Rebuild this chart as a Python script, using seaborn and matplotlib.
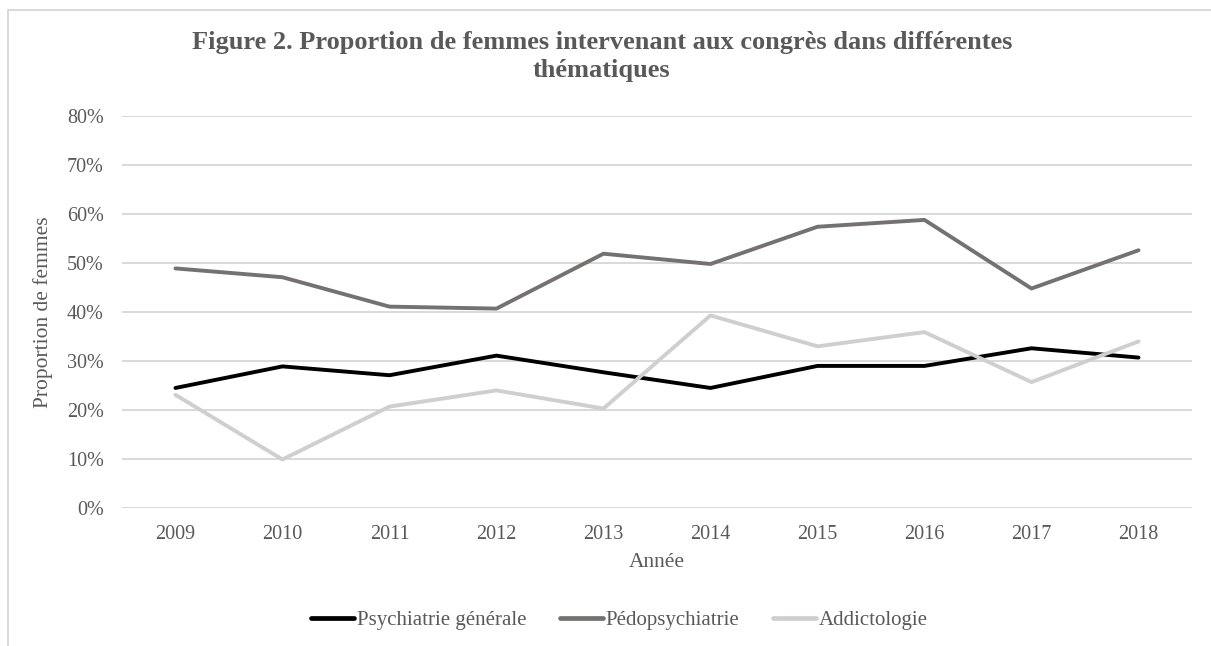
import matplotlib
matplotlib.use("Agg")
import matplotlib.pyplot as plt
import matplotlib.lines as mlines
from matplotlib.ticker import PercentFormatter
import pandas as pd
import seaborn as sns

# ---------------------------------------------------
# Data
# ---------------------------------------------------

years = ["2009", "2010", "2011", "2012", "2013", "2014", "2015", "2016", "2017", "2018"]

psychiatrie_generale = [0.245, 0.289, 0.271, 0.311, 0.277, 0.245, 0.290, 0.290, 0.326, 0.307]
pedopsychiatrie = [0.489, 0.471, 0.411, 0.407, 0.519, 0.498, 0.574, 0.588, 0.448, 0.526]
addictologie = [0.231, 0.099, 0.207, 0.240, 0.203, 0.393, 0.330, 0.359, 0.257, 0.340]

series_names = ["Psychiatrie générale", "Pédopsychiatrie", "Addictologie"]
series_colors = ["#000000", "#767171", "#d0cece"]

rows = []
for name, values in zip(series_names, [psychiatrie_generale, pedopsychiatrie, addictologie]):
    for year, value in zip(years, values):
        rows.append({"Année": year, "Proportion": value, "Série": name})
df = pd.DataFrame(rows)

# ---------------------------------------------------
# Style
# ---------------------------------------------------

sns.set_style("white")
plt.rcParams["font.family"] = ["Liberation Serif", "DejaVu Serif"]

text_gray = "#595959"
grid_gray = "#d9d9d9"

fig = plt.figure(figsize=(12.11, 6.46), dpi=100)
ax = fig.add_axes([0.1007, 0.2136, 0.8836, 0.6068])

sns.lineplot(
    data=df,
    x="Année",
    y="Proportion",
    hue="Série",
    palette=dict(zip(series_names, series_colors)),
    linewidth=2.8,
    legend=False,
    ax=ax,
    sort=False
)

ax.set_ylim(0, 0.8)
ax.set_xlim(-0.5, len(years) - 0.5)
ax.set_yticks([i / 10 for i in range(9)])
ax.yaxis.set_major_formatter(PercentFormatter(1.0, decimals=0))

ax.grid(axis="y", color=grid_gray, linewidth=1.4)
ax.grid(axis="x", visible=False)
ax.set_axisbelow(True)
for side in ["top", "right", "left", "bottom"]:
    ax.spines[side].set_visible(False)

ax.tick_params(axis="both", length=0, labelsize=14.5, labelcolor=text_gray)
ax.tick_params(axis="y", pad=13)
ax.tick_params(axis="x", pad=12)

ax.set_xlabel("Année", fontsize=15.5, color=text_gray, labelpad=7)
ax.set_ylabel("Proportion de femmes", fontsize=15.5, color=text_gray, labelpad=10)

fig.text(
    0.497, 0.952,
    "Figure 2. Proportion de femmes intervenant aux congrès dans différentes\nthématiques",
    ha="center", va="top",
    fontsize=19, fontweight="bold", color=text_gray,
    linespacing=1.25
)

handles = [
    mlines.Line2D([], [], color=c, linewidth=3.4) for c in series_colors
]
fig.legend(
    handles, series_names,
    loc="center", bbox_to_anchor=(0.5116, 0.04),
    ncol=3, frameon=False,
    fontsize=15, labelcolor=text_gray,
    handlelength=2.05, handletextpad=0.15, columnspacing=1.6
)

# chart-area frame (only top and left visible in the reference)
fig.add_artist(mlines.Line2D([0.0066, 1.0], [0.985, 0.985], color=grid_gray, linewidth=1.4, transform=fig.transFigure))
fig.add_artist(mlines.Line2D([0.0066, 0.0066], [0.0, 0.985], color=grid_gray, linewidth=1.4, transform=fig.transFigure))

plt.savefig("out.png", dpi=100)
plt.close()
